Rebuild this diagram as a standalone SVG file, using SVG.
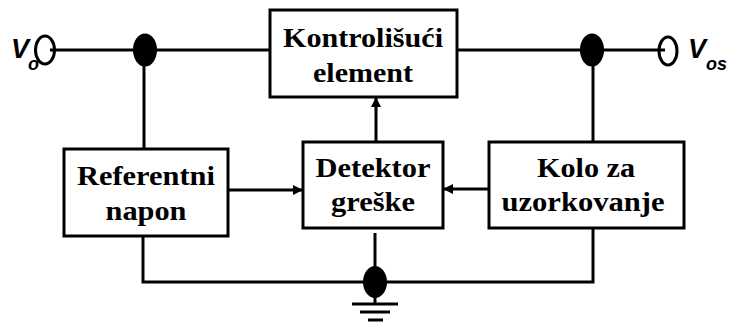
<svg xmlns="http://www.w3.org/2000/svg" width="731" height="322" viewBox="0 0 731 322">
  <style>
    .box { fill: #fff; stroke: #000; stroke-width: 3; }
    .wire { fill: none; stroke: #000; stroke-width: 3; }
    .lbl { font-family: "Liberation Serif", "Times New Roman", serif; font-weight: bold; font-size: 28px; fill: #000; text-anchor: middle; }
    .term { font-family: "Liberation Sans", Arial, sans-serif; font-weight: bold; font-style: italic; fill: #000; }
    .node { fill: #000; }
  </style>
  <defs>
    <marker id="arr" viewBox="0 0 10 10" refX="10" refY="5" markerWidth="10" markerHeight="10" markerUnits="userSpaceOnUse" orient="auto">
      <path d="M0,0 L10,5 L0,10 z" fill="#000"/>
    </marker>
  </defs>

  <g id="connectors">
    <!-- main line -->
    <line class="wire" x1="50" y1="50" x2="270" y2="50"/>
    <line class="wire" x1="457" y1="50" x2="665" y2="50"/>
    <!-- taps to the side blocks -->
    <line class="wire" x1="144" y1="50" x2="144" y2="149"/>
    <line class="wire" x1="593" y1="50" x2="593" y2="142"/>
    <!-- feedback signals -->
    <line class="wire" x1="222" y1="190" x2="303" y2="190" marker-end="url(#arr)"/>
    <line class="wire" x1="489" y1="189" x2="443" y2="189" marker-end="url(#arr)"/>
    <line class="wire" x1="376" y1="142" x2="376" y2="97" marker-end="url(#arr)"/>
    <!-- common return -->
    <polyline class="wire" points="143,236 143,282 593,282 593,228"/>
    <line class="wire" x1="375" y1="233" x2="375" y2="304"/>
    <!-- ground -->
    <line class="wire" x1="352" y1="304" x2="398" y2="304"/>
    <line class="wire" x1="360" y1="312" x2="390" y2="312"/>
    <line class="wire" x1="368" y1="320" x2="383" y2="320"/>
  </g>

  <g id="junctions">
    <ellipse class="node" cx="145" cy="50" rx="12" ry="16.5"/>
    <ellipse class="node" cx="592" cy="50" rx="12" ry="16.5"/>
    <ellipse class="node" cx="375" cy="282" rx="12" ry="16"/>
  </g>

  <g id="vin">
    <ellipse cx="45" cy="50" rx="9.5" ry="14" fill="none" stroke="#000" stroke-width="3"/>
    <text class="term" x="11" y="58" font-size="27">V</text>
    <text class="term" x="28" y="70" font-size="18">o</text>
  </g>

  <g id="vout">
    <ellipse cx="668" cy="51" rx="9" ry="14" fill="none" stroke="#000" stroke-width="3"/>
    <text class="term" x="688" y="58" font-size="27">V</text>
    <text class="term" x="706" y="70" font-size="18">os</text>
  </g>

  <g id="kontrolisuci">
    <rect class="box" x="270" y="10" width="187" height="87"/>
    <text class="lbl" x="363" y="47" textLength="160" lengthAdjust="spacingAndGlyphs">Kontrolišući</text>
    <text class="lbl" x="363" y="82" textLength="100" lengthAdjust="spacingAndGlyphs">element</text>
  </g>

  <g id="referentni">
    <rect class="box" x="64" y="149" width="164" height="87"/>
    <text class="lbl" x="146" y="185" textLength="138" lengthAdjust="spacingAndGlyphs">Referentni</text>
    <text class="lbl" x="146" y="220" textLength="81" lengthAdjust="spacingAndGlyphs">napon</text>
  </g>

  <g id="detektor">
    <rect class="box" x="303" y="142" width="140" height="86"/>
    <text class="lbl" x="373" y="177" textLength="115" lengthAdjust="spacingAndGlyphs">Detektor</text>
    <text class="lbl" x="373" y="211" textLength="84" lengthAdjust="spacingAndGlyphs">greške</text>
  </g>

  <g id="kolo">
    <rect class="box" x="489" y="142" width="195" height="86"/>
    <text class="lbl" x="586" y="177" textLength="98" lengthAdjust="spacingAndGlyphs">Kolo za</text>
    <text class="lbl" x="583" y="211" textLength="163" lengthAdjust="spacingAndGlyphs">uzorkovanje</text>
  </g>
</svg>
